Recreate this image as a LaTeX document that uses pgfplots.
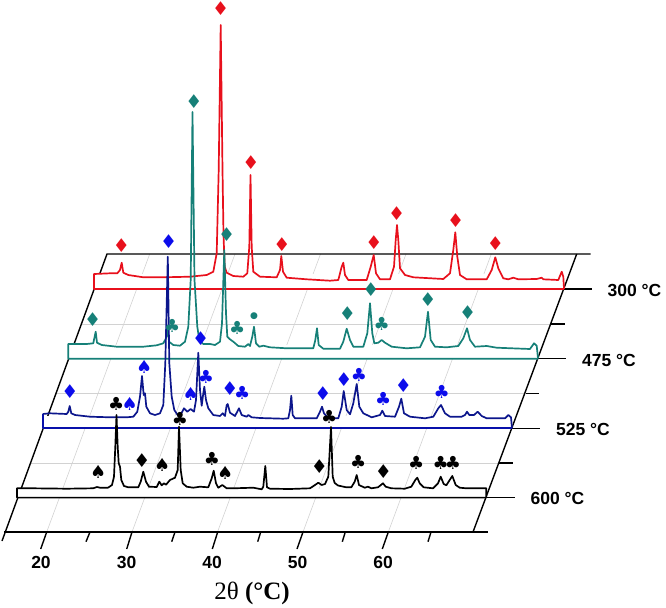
\documentclass[border=0pt]{standalone}
\usepackage{fontspec}
\setmainfont{Liberation Sans}
\newfontfamily\serifx{Liberation Serif}
\newfontfamily\symf{DejaVu Sans}
\usepackage{pgfplots}
\pgfplotsset{compat=1.18}
\usetikzlibrary{plotmarks}
\definecolor{cred}{RGB}{232,16,28}
\definecolor{cteal}{RGB}{22,128,120}
\definecolor{cnavy}{RGB}{12,22,140}
\definecolor{cblue}{RGB}{12,12,235}
\definecolor{cframe}{RGB}{8,16,170}
\definecolor{cgrid}{RGB}{210,210,210}
\newcommand\ticklab[1]{\fontsize{17.5bp}{18bp}\selectfont\bfseries #1}
\pgfplotsset{
  sym/.style n args={3}{only marks, mark=text, color=#1, mark options={solid},
    text mark={\fontsize{#3bp}{#3bp}\selectfont\symf #2},
    text mark as node=true, text mark style={inner sep=0pt, anchor=center}},
  grd/.style={cgrid, line width=0.6pt, no marks},
  axl/.style={black, line width=1.4pt, no marks},
  ser/.style={line width=1.7pt, no marks, line join=round, sharp plot},
}
\begin{document}
\begin{tikzpicture}
\useasboundingbox (0,0) rectangle (666bp,608bp);
\begin{axis}[at={(0,0)},anchor=south west,width=666bp,height=608bp,scale only axis,
  xmin=0,xmax=666,ymin=0,ymax=608,y dir=reverse,axis lines=none,clip=false]
% grid
\addplot[grd] coordinates {(46.7,532)(149.7,254)};
\addplot[grd] coordinates {(132,532)(235,254)};
\addplot[grd] coordinates {(217.5,532)(320.5,254)};
\addplot[grd] coordinates {(303,532)(406,254)};
\addplot[grd] coordinates {(388.3,532)(491.3,254)};
\addplot[grd] coordinates {(31,463)(498.7,463)};
\addplot[grd] coordinates {(56.3,393.5)(524.7,393.5)};
\addplot[grd] coordinates {(81.6,324)(550.6,324)};
% walls and depth ticks
\addplot[axl] coordinates {(2,541)(107,254)(590.7,254)};
\addplot[axl] coordinates {(473,532)(576.7,254)};
\addplot[axl] coordinates {(4,532)(488,532)};
\addplot[axl] coordinates {(499,463)(513,463)};
\addplot[axl] coordinates {(525.7,393.5)(539,393.5)};
\addplot[axl] coordinates {(550.7,324)(565,324)};
\addplot[axl] coordinates {(564,289)(592,289)};
\addplot[axl] coordinates {(538,358.7)(566,358.7)};
\addplot[axl] coordinates {(512,428.3)(540,428.3)};
\addplot[axl] coordinates {(486,497.6)(515,497.6)};
% x ticks
\addplot[axl] coordinates {(46.7,532)(40.7,549)};
\addplot[axl] coordinates {(90,532)(86,541.7)};
\addplot[axl] coordinates {(132,532)(126.7,549)};
\addplot[axl] coordinates {(175,532)(171.7,541.7)};
\addplot[axl] coordinates {(217.7,532)(212.3,549)};
\addplot[axl] coordinates {(260.7,532)(257.7,541.7)};
\addplot[axl] coordinates {(303,532)(297,549)};
\addplot[axl] coordinates {(345.3,532)(342.3,541.7)};
\addplot[axl] coordinates {(388.3,532)(382.3,549)};
\addplot[axl] coordinates {(431,532)(428,541.7)};
% 300 C
\addplot[fill=white,draw=none] coordinates {(94,274)(564,274)(564,289)(94,289)} \closedcycle;
\addplot[ser,cred] coordinates {(564,289)(94,289)(94,274)(110,273.3)(117.3,273.3)(120,270)(121.7,262.7)(123.3,272.7)(128.3,275)(143.3,277.3)(163.3,277.3)(190,276.7)(206.7,275)(213.3,271.7)(216.7,253.3)(218.7,170)(220.7,25)(222.5,170)(223.5,235)(224.7,266.7)(226.7,272.7)(233.3,276)(243.3,276.7)(247.3,273.3)(249.3,246.7)(250.5,175)(251.7,246.7)(253.3,271.7)(260,276.7)(276.7,277.3)(280,270)(281.3,256)(283,271.7)(286.7,277.7)(306.7,279.3)(330,280.7)(338.3,280)(341.7,266.7)(343.3,262.7)(345,275)(348.3,280)(366.7,280)(370.7,266.7)(373.7,255)(376,273.3)(380,279.3)(390,279.3)(394,266.7)(395.7,240)(397,225)(398.3,240)(400,268.3)(405,275)(413.3,277.3)(443.3,279)(450,273.3)(453.3,250)(455.3,232.3)(457.3,256.7)(460,275)(466.7,279.3)(486.7,279.3)(491.7,270)(495.3,257.3)(498.3,268.3)(503.3,278.3)(508.3,279.3)(513.3,277.7)(518.3,279.3)(536.7,279)(541.7,277.7)(543.3,279.3)(558.3,280)(561.7,271.7)(563.3,276.7)(564,289)};
% 475 C
\addplot[fill=white,draw=none] coordinates {(68,345)(538,345)(538,358.7)(68,358.7)} \closedcycle;
\addplot[ser,cteal] coordinates {(538,358.7)(68.3,358.7)(68.3,344)(86.7,344)(93.3,343.3)(94.3,338.3)(95.7,331.7)(97,342.7)(101.7,345)(116.7,346.7)(143.3,346.7)(156.7,345.3)(163.3,343.3)(166,338.3)(168,330)(169,341.7)(173.3,345)(180,345.7)(185,341.7)(188.3,326.7)(190.7,280)(192.5,112)(194.5,280)(197.3,326.7)(199.3,340)(203.3,344)(210,344)(215,345)(220,341.7)(222,323.3)(224.3,250)(226,313.3)(227.3,336.7)(230,339.3)(233.3,341.7)(238.3,346)(245,346.7)(248.3,344)(250,346)(252.3,336.7)(254,326.7)(256,343.3)(259.3,346.7)(263.3,345.7)(270,347.3)(286.7,348.3)(313.3,348.3)(315.3,340)(317,328.3)(318.7,345)(323.3,348.7)(340,348.7)(343.3,341.7)(346.7,328.7)(350,340)(353.3,346.7)(363.3,346.7)(367.3,333.3)(370,303.3)(372.3,333.3)(374.3,343.3)(378.3,342.7)(381.7,340)(385,342.7)(391.7,346.7)(406.7,348.3)(420,347.3)(425,336.7)(428,311.7)(430.7,340)(435,346.7)(446.7,347.3)(458.3,346)(463.3,338.3)(467,328.3)(470,340)(475,346.7)(486.7,346)(496.7,347.7)(511.7,348.3)(530,349)(534,343.3)(536.7,345.7)(538,358.3)};
% 525 C
\addplot[fill=white,draw=none] coordinates {(43,416)(512,416)(512,428.3)(43,428.3)} \closedcycle;
\addplot[ser,cframe] coordinates {(512,428.3)(43,428.3)(43,414)};
\addplot[ser,cnavy] coordinates {(42.7,414)(50,413.3)(66.7,414)(68.3,411.7)(69.7,406)(71.3,413.3)(75,415)(90,416.7)(110,417.3)(126.7,417.3)(133.3,416.7)(137.3,411.7)(140,396.7)(142,376)(143.7,395)(145,393.3)(146.3,406.7)(150,413.3)(155,415)(160,413.3)(163.3,405)(165.3,363.3)(167.8,256.7)(169.3,363.3)(171.7,396.7)(174.3,410)(178.3,416)(181.7,412.7)(184,408.3)(187.3,411.7)(190.7,409)(194,411.7)(196,400)(198.3,352.7)(200,390)(201.7,405.7)(203.3,393.3)(204.3,386.7)(206,400)(208.3,408.3)(213.3,415)(220,416)(222.7,413.3)(225,416)(226.7,405)(227.7,404)(230,412.7)(235,416)(239,408.3)(241.7,415)(246.7,416.7)(248.3,415)(251.7,417.3)(260,418)(283.3,418.7)(288.3,418.3)(290,410)(291.3,395.7)(292.7,415)(295,418.3)(316.7,418.3)(320,411.7)(322,406.7)(324,413.3)(328.3,418.3)(338.3,418.3)(341.7,406.7)(343.7,391)(346.7,410)(350,414.3)(353.3,403.3)(356.7,384)(359.3,406.7)(363.3,413.3)(371.7,417.3)(380,415)(382.3,410.7)(385,416)(395,416.7)(399,406.7)(401.3,398.7)(404,413.3)(410,416.7)(425,418.3)(433.3,416.7)(438.3,408.3)(441,405)(445,413.3)(450,416.7)(461.7,416.7)(465,415)(467,411.7)(469.3,415)(474,415)(477.7,411.7)(481.7,416)(486.7,418.3)(505,418.3)(508.3,415)(511,417.3)(512,428.3)};
% 600 C
\addplot[fill=white,draw=none] coordinates {(17,489)(486,489)(486,497.7)(17,497.7)} \closedcycle;
\addplot[ser,black] coordinates {(486.3,497.6)(17,497.6)(17,488.3)(33,488.3)(67,488.7)(93,488.3)(97,487)(100,487.7)(108,487.7)(112,485)(114,476.7)(115.3,446.7)(116.5,415)(117.7,446.7)(118.7,463.3)(120,466.7)(121.3,480)(124,486)(128.3,487.3)(138.3,487.3)(140.7,481.7)(143.3,471.7)(146,481.7)(149,486.7)(156.7,487)(159.3,481.7)(161.7,485.3)(164,483.3)(166,484.7)(170,480)(175,477.7)(177.7,470)(179,426.7)(180.7,470)(182.7,483.3)(186.7,486.7)(193.3,487.7)(200,486.7)(208.3,487.3)(211.7,478.3)(213.7,470.7)(216,483.3)(218.3,487.7)(222.3,485)(226.7,488.3)(233.3,488.3)(253.3,487.7)(261.7,489.3)(263.3,486.7)(265.3,466)(267,487.3)(270,488.7)(290,489)(310,488.3)(315,485)(318.3,482.7)(321.7,485)(325,484)(328.3,476.7)(331,427)(332.7,476.7)(334.7,483)(338,485.5)(346.3,487.3)(351.3,487.3)(354.7,481.7)(356.7,475)(359,485)(364.7,487.7)(368,486.7)(371.3,488.3)(378,487.3)(383,483.3)(385.7,486.7)(391.3,488.3)(404.7,488.7)(411.3,486.7)(415.3,480)(417.3,477.7)(419.7,483.3)(423.7,487.3)(433,488.3)(438,483.3)(440.7,476.7)(443.7,484)(446.3,485.3)(449.7,480)(452.3,476)(455.7,485)(459.7,487.7)(466.3,488.3)(486.3,488.3)(486.3,497.6)};
% peak symbols
\addplot[sym={cred}{♦}{19}] coordinates {(121.3,245.7)(220.7,9)(251,163)(282,244.3)(374,242.7)(396.7,214)(455.7,220.7)(495.3,244)};
\addplot[sym={cteal}{♦}{19}] coordinates {(92.7,319.3)(194,102)(226.7,234.7)(347.3,313.7)(371,289.3)(428,299.7)(467.7,312.7)};
\addplot[sym={cteal}{♣}{18}] coordinates {(172.3,326)(237.3,328.3)(381.7,324)};
\addplot[sym={cteal}{●}{9}] coordinates {(254,315.7)};
\addplot[sym={cblue}{♦}{19}] coordinates {(70,392)(168.7,241.3)(200.7,338.3)(230,388.3)(323,393.3)(344,379.7)(403.3,385.7)};
\addplot[sym={cblue}{♠}{18}] coordinates {(129.7,404)(144.3,366.7)(190.7,394)};
\addplot[sym={cblue}{♣}{18}] coordinates {(206,377.3)(242.3,392.7)(359,375)(383.3,399)(441.7,392)};
\addplot[sym={black}{♣}{18}] coordinates {(116.3,404)(180,419.3)(212,459.3)(329.3,416.7)(358.3,461.7)(416.3,463)(440.7,463.3)(453,463.3)};
\addplot[sym={black}{♦}{19}] coordinates {(142,461)(319.3,466.7)(383.3,472)};
\addplot[sym={black}{♠}{18}] coordinates {(98.3,472)(162.3,465.3)(225.3,473.3)};
% labels
\node at (axis cs:41,562) {\ticklab{20}};
\node at (axis cs:126.7,562) {\ticklab{30}};
\node at (axis cs:212,562) {\ticklab{40}};
\node at (axis cs:297.5,562) {\ticklab{50}};
\node at (axis cs:383,562) {\ticklab{60}};
\node at (axis cs:557.5,498.7) {\ticklab{600 °C}};
\node at (axis cs:583,429) {\ticklab{525 °C}};
\node at (axis cs:609,360) {\ticklab{475 °C}};
\node at (axis cs:634.5,290) {\ticklab{300 °C}};
\node at (axis cs:252,593) {\fontsize{25bp}{26bp}\selectfont\serifx 2θ \textbf{(°C)}};
\end{axis}
\end{tikzpicture}
\end{document}
